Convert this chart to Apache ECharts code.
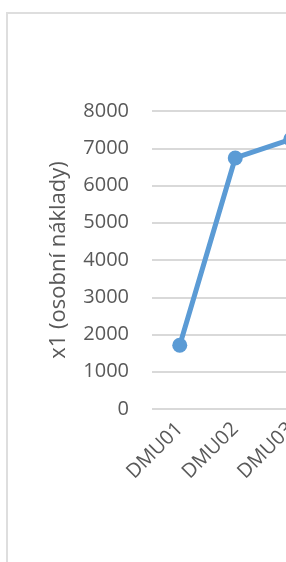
<!DOCTYPE html>
<html lang="cs">
<head>
    <meta charset="UTF-8">
    <script src="https://cdn.jsdelivr.net/npm/echarts@6/dist/echarts.min.js"></script>
    <title>x1 (osobní náklady)</title>
    <style>
        html, body { margin: 0; padding: 0; overflow: hidden; background: #fff; }
        #frame {
            position: absolute; left: 6px; top: 12px;
            width: 420px; height: 600px;
            border: 2px solid #dedede; box-sizing: border-box;
        }
        #main { position: absolute; left: 0; top: 0; width: 420px; height: 562px; }
    </style>
</head>
<body>
<div id="frame"></div>
<div id="main"></div>
<script type="text/javascript">
    // values
    var dmu = ['DMU01', 'DMU02', 'DMU03'];
    var x1 = [1710, 6740, 7240];
    var yTicks = [0, 1000, 2000, 3000, 4000, 5000, 6000, 7000, 8000];

    var chart = echarts.init(document.getElementById('main'));
    var font = '"Open Sans", sans-serif';

    chart.setOption({
        animation: false,
        grid: { left: 152, top: 111, height: 298, width: 166.5 },
        xAxis: {
            type: 'category',
            data: dmu,
            boundaryGap: true,
            axisLine: { show: false },
            axisTick: { show: false },
            axisLabel: {
                rotate: 45, margin: 17,
                fontFamily: font, fontSize: 20, color: '#595959'
            }
        },
        yAxis: {
            type: 'value',
            min: yTicks[0],
            max: yTicks[yTicks.length - 1],
            interval: 1000,
            name: 'x1 (osobní náklady)',
            nameLocation: 'middle',
            nameGap: 82,
            nameTextStyle: { fontFamily: font, fontSize: 22, color: '#595959' },
            axisLine: { show: false },
            axisTick: { show: false },
            axisLabel: {
                margin: 23, fontFamily: font, fontSize: 20, color: '#595959',
                formatter: function (v) { return String(v); }
            },
            splitLine: { lineStyle: { color: '#d9d9d9', width: 2 } }
        },
        series: [{
            type: 'line',
            data: x1,
            symbol: 'circle',
            symbolSize: 15,
            lineStyle: { color: '#5b9bd5', width: 5 },
            itemStyle: { color: '#5b9bd5' }
        }]
    });
</script>
</body>
</html>
